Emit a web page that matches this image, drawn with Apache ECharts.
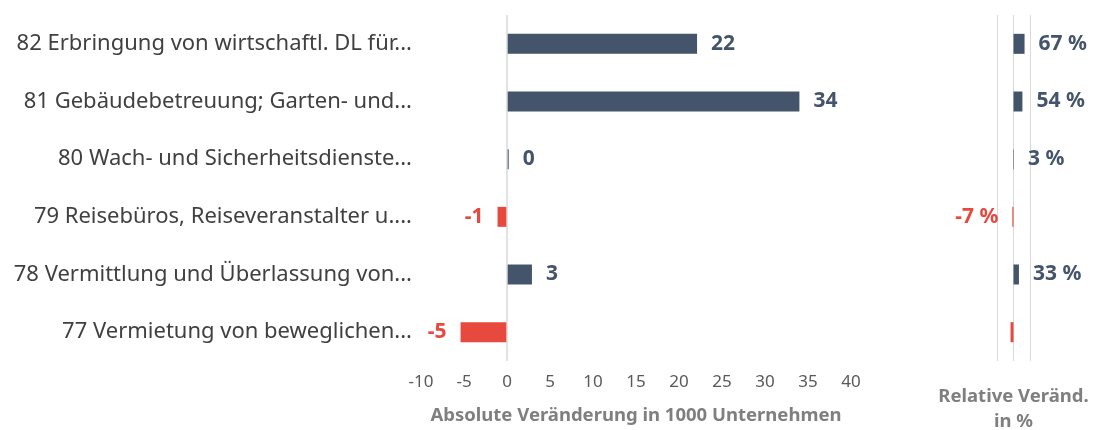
<!DOCTYPE html>
<html>
<head>
<meta charset="utf-8">
<script src="https://cdn.jsdelivr.net/npm/echarts@6/dist/echarts.min.js"></script>
<style>
  html, body { margin: 0; padding: 0; background: #fff; }
  #chart { width: 1100px; height: 430px; }
</style>
</head>
<body>
<div id="chart"></div>
<script>
  // Wirtschaftszweige (oben nach unten)
  var categories = [
    '82 Erbringung von wirtschaftl. DL für...',
    '81 Gebäudebetreuung; Garten- und...',
    '80 Wach- und Sicherheitsdienste...',
    '79 Reisebüros, Reiseveranstalter u....',
    '78 Vermittlung und Überlassung von...',
    '77 Vermietung von beweglichen...'
  ];
  // absolute Veränderung in 1000 Unternehmen
  var absValues = [22.1, 34.0, 0.2, -1.1, 2.9, -5.4];
  var absLabels = ['22', '34', '0', '-1', '3', '-5'];
  // relative Veränderung in %
  var relValues = [67, 54, 3, -7, 33, -18];
  var relLabels = ['67 %', '54 %', '3 %', '-7 %', '33 %', ''];
  var absTicks = [-10, 40, 5];
  var relTicks = [-100, 100, 100];

  var blue = '#44546a';
  var red = '#e8493f';
  var fontFam = 'Noto Sans';

  function makeData(values, labels) {
    return values.map(function (v, i) {
      var c = v < 0 ? red : blue;
      return {
        value: v,
        itemStyle: { color: c },
        label: {
          show: labels[i] !== '',
          position: v < 0 ? 'left' : 'right',
          color: c,
          formatter: labels[i]
        }
      };
    });
  }

  var myChart = echarts.init(document.getElementById('chart'));
  var option = {
    animation: false,
    grid: [
      { left: 421, width: 430, top: 15, height: 346, outerBoundsMode: 'none' },
      { left: 997, width: 33, top: 15, height: 346, outerBoundsMode: 'none' }
    ],
    xAxis: [{
      gridIndex: 0,
      type: 'value',
      min: absTicks[0], max: absTicks[1], interval: absTicks[2],
      axisLine: { show: false },
      axisTick: { show: false },
      splitLine: { show: false },
      axisLabel: { color: '#595959', fontSize: 17, fontFamily: fontFam, margin: 13 },
      name: 'Absolute Veränderung in 1000 Unternehmen',
      nameLocation: 'middle',
      nameGap: 45,
      nameTextStyle: { color: '#7f7f7f', fontSize: 18.5, fontWeight: 'bold', fontFamily: fontFam }
    }, {
      gridIndex: 1,
      type: 'value',
      min: relTicks[0], max: relTicks[1], interval: relTicks[2],
      axisLine: { show: false },
      axisTick: { show: false },
      axisLabel: { show: false },
      splitLine: { show: true, lineStyle: { color: '#d9d9d9', width: 1 } },
      name: 'Relative Veränd.\nin %',
      nameLocation: 'middle',
      nameGap: 23,
      nameTextStyle: { color: '#7f7f7f', fontSize: 18.5, fontWeight: 'bold', fontFamily: fontFam, lineHeight: 25, verticalAlign: 'top' }
    }],
    yAxis: [{
      gridIndex: 0,
      type: 'category',
      inverse: true,
      data: categories,
      axisLine: { show: false },
      axisTick: { show: false },
      axisLabel: { color: '#404040', fontSize: 22, fontFamily: fontFam, margin: 9 }
    }, {
      gridIndex: 1,
      type: 'category',
      inverse: true,
      data: categories,
      axisLine: { show: false },
      axisTick: { show: false },
      axisLabel: { show: false }
    }],
    series: [{
      type: 'bar',
      xAxisIndex: 0,
      yAxisIndex: 0,
      barWidth: 20,
      data: makeData(absValues, absLabels),
      label: { fontSize: 21, fontWeight: 'bold', fontFamily: fontFam, distance: 14 },
      markLine: {
        silent: true,
        symbol: 'none',
        label: { show: false },
        lineStyle: { color: '#d9d9d9', type: 'solid', width: 1.5 },
        data: [{ xAxis: 0 }]
      }
    }, {
      type: 'bar',
      xAxisIndex: 1,
      yAxisIndex: 1,
      barWidth: 20,
      data: makeData(relValues, relLabels),
      label: { fontSize: 21, fontWeight: 'bold', fontFamily: fontFam, distance: 14 }
    }]
  };
  myChart.setOption(option);
</script>
</body>
</html>
